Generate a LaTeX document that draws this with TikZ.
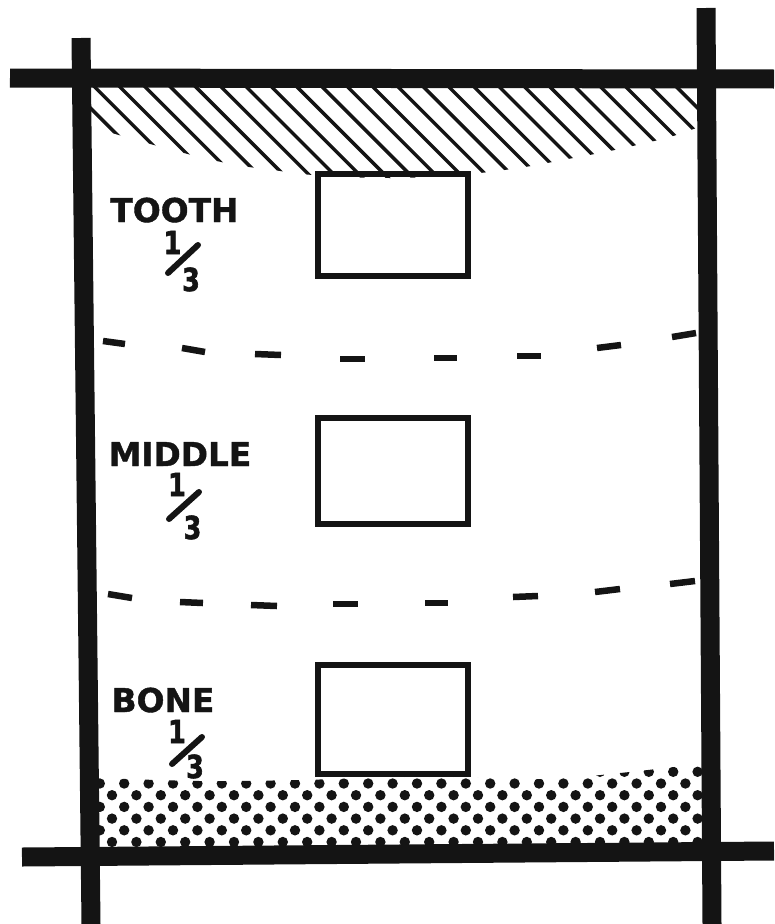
\documentclass[tikz,border=0pt]{standalone}
\usepackage{fontspec}
\newfontfamily\lblfont{DejaVu Sans}[FakeBold=1.2]
\newfontfamily\digfont{DejaVu Sans}[FakeStretch=0.8, FakeBold=2]
\newdimen\pxu \pxu=0.03cm
\colorlet{ink}{black!92}
\tikzset{
  bar/.style={line width=19\pxu, draw=ink},
  hatchline/.style={line width=3.4\pxu, draw=ink},
  boxline/.style={line width=6\pxu, draw=ink},
  dashseg/.style={line width=6.5\pxu, draw=ink},
  slashline/.style={line width=6\pxu, line cap=round, draw=ink},
  dotfill/.style={fill=ink},
  word/.style={font=\lblfont\bfseries\fontsize{28}{30}\selectfont, text=ink, inner sep=0pt, anchor=base},
  digit/.style={font=\digfont\bfseries\fontsize{27}{29}\selectfont, text=ink, inner sep=0pt, anchor=base},
}
\begin{document}
\begin{tikzpicture}[x=0.03cm,y=-0.03cm]
\useasboundingbox (0,0) rectangle (774,924);

% hatched zone under the top bar
\begin{scope}
  \clip (86,78) -- (702,78) -- (702,126) -- plot[smooth] coordinates {(688,131) (670,137) (650,142) (610,151) (568,159) (525,167) (480,173) (430,177) (390,178) (340,177) (302,174) (273,170) (242,166) (212,160) (180,152) (143,142) (105,131)} -- (86,126) -- cycle;
  \foreach \k in {-3,...,23} \draw[hatchline] ({113+25.3*\k},80) -- ++(140,140);
\end{scope}

% dotted zone above the bottom bar
\begin{scope}
  \clip (88,852) -- (88,779) -- plot[smooth] coordinates {(97,778) (200,781) (300,780) (400,777) (470,777) (550,779) (620,773) (700,764)} -- (705,764) -- (705,852) -- cycle;
  \foreach \r in {0,...,7} {
    \foreach \c in {0,...,26} {
      \fill[dotfill] ({87.6+24.4*\c+12.2*mod(\r,2)},{842-11.7*\r}) circle[radius=5.2\pxu];
    }
  }
\end{scope}

% boxes
\draw[boxline] (318,174) rectangle (468,276);
\draw[boxline] (318,418) rectangle (468,524);
\draw[boxline] (318,665) rectangle (468,774);

% dashed dividers
\foreach \xa/\ya/\xb/\yb in {103/341/125/344, 182/348/205/352, 255/354/281/355, 340/359/365/359, 434/358/457/358, 517/356/541/356, 597/348/621/345, 672/337/696/333,
  108/594/132/598, 180/602/203/603, 251/605/277/606, 333/604/358/604, 425/603/448/603, 513/597/538/596, 595/592/620/589, 670/584/695/581}
  \draw[dashseg] (\xa,\ya) -- (\xb,\yb);

% frame bars
\draw[bar] (10,78) -- (774,79);
\draw[bar] (81,38) -- (91,924);
\draw[bar] (706,8) -- (712,924);
\draw[bar] (22,857) -- (774,851);

% labels
\node[word] (tooth) at (174.5,222) {TOOTH};
\node[digit] (toothone) at (172.5,254) {1};
\node[digit] (ooththree) at (191,291) {3};
\draw[slashline] (168,273) -- (198,245);

\node[word] (middle) at (180,466) {MIDDLE};
\node[digit] (middleone) at (177,496) {1};
\node[digit] (middlethree) at (192.5,539) {3};
\draw[slashline] (169,519) -- (199,492);

\node[word] (bone) at (163,712) {BONE};
\node[digit] (boneone) at (177,743) {1};
\node[digit] (bonethree) at (195,778) {3};
\draw[slashline] (172,764) -- (202,737);
\end{tikzpicture}
\end{document}
